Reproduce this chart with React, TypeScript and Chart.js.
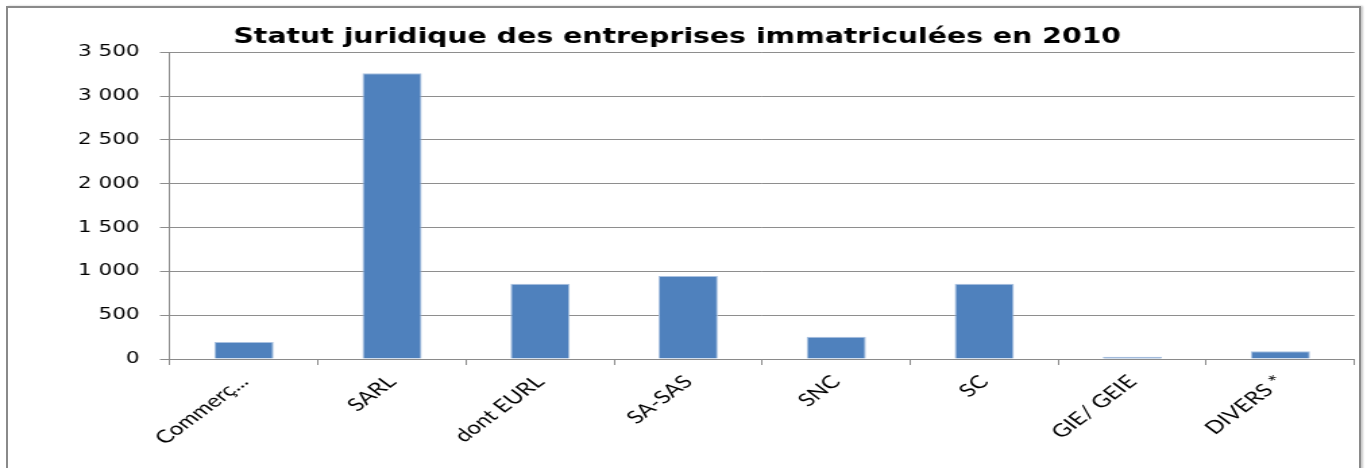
import { useEffect, useRef } from "react";
import { Chart, registerables } from "chart.js";

Chart.register(...registerables);

const chartTitle = "Statut juridique des entreprises immatriculées en 2010";
const categories = ["Commerç...", "SARL", "dont EURL", "SA-SAS", "SNC", "SC", "GIE/ GEIE", "DIVERS *"];
const values = [195, 3260, 858, 946, 254, 858, 25, 88];
const yMin = 0;
const yMax = 3500;
const yStep = 500;

const S = 1.35; // horizontal stretch of the original picture
const PAGE_W = 1367;
const PAGE_H = 468;
const W = Math.round(PAGE_W / S);

function fmt(v: number): string {
  return String(v).replace(/\B(?=(\d{3})+(?!\d))/g, " ");
}

export default function App() {
  const ref = useRef<HTMLCanvasElement | null>(null);

  useEffect(() => {
    document.body.style.margin = "0";
    const canvas = ref.current;
    if (!canvas) return;
    const chart = new Chart(canvas, {
      type: "bar",
      data: {
        labels: categories,
        datasets: [
          {
            data: values,
            backgroundColor: "#4F81BD",
            borderColor: "#A9C1E0",
            borderWidth: 1,
            barPercentage: 0.4,
            categoryPercentage: 1,
          },
        ],
      },
      options: {
        responsive: false,
        animation: false,
        devicePixelRatio: 1,
        layout: { padding: { left: 0, right: W - 1355 / S, top: 0, bottom: 0 } },
        plugins: {
          legend: { display: false },
          tooltip: { enabled: false },
          title: {
            display: true,
            text: chartTitle,
            color: "#000",
            font: { family: "'DejaVu Sans', Verdana, sans-serif", size: 21, weight: "bold" },
            padding: { top: 25, bottom: 2 },
          },
        },
        scales: {
          x: {
            afterFit: (scale: any) => {
              scale.height = 109;
            },
            grid: {
              offset: true,
              drawOnChartArea: false,
              drawTicks: true,
              tickLength: 6,
              color: "#8a8a8a",
            },
            border: { color: "#8a8a8a", width: 1 },
            ticks: {
              minRotation: 45,
              maxRotation: 45,
              autoSkip: false,
              padding: 6,
              color: "#000",
              font: { family: "Lato, 'Open Sans', sans-serif", size: 18 },
            },
          },
          y: {
            min: yMin,
            max: yMax,
            afterFit: (scale: any) => {
              scale.width = 170 / S;
            },
            grid: {
              color: "#8e8e8e",
              tickLength: 10 / S,
              drawTicks: true,
            },
            border: { color: "#8a8a8a", width: 1 },
            ticks: {
              stepSize: yStep,
              padding: 15,
              color: "#000",
              font: { family: "'DejaVu Sans', Verdana, sans-serif", size: 16 },
              callback: (v: any) => fmt(Number(v)),
            },
          },
        },
      },
    });
    return () => chart.destroy();
  }, []);

  return (
    <div style={{ position: "absolute", left: 0, top: 0, width: PAGE_W, height: PAGE_H, overflow: "hidden", background: "#fff" }}>
      <div
        style={{
          position: "absolute",
          left: 6,
          top: 6,
          width: 1351,
          height: 480,
          border: "2px solid #8a8a8a",
          boxShadow: "2px 0 2px #c8c8c8",
        }}
      />
      <div
        style={{
          position: "absolute",
          left: 0,
          top: 0,
          width: W,
          height: PAGE_H,
          transform: `scaleX(${PAGE_W / W})`,
          transformOrigin: "0 0",
        }}
      >
        <canvas ref={ref} width={W} height={PAGE_H} style={{ display: "block" }} />
      </div>
    </div>
  );
}
